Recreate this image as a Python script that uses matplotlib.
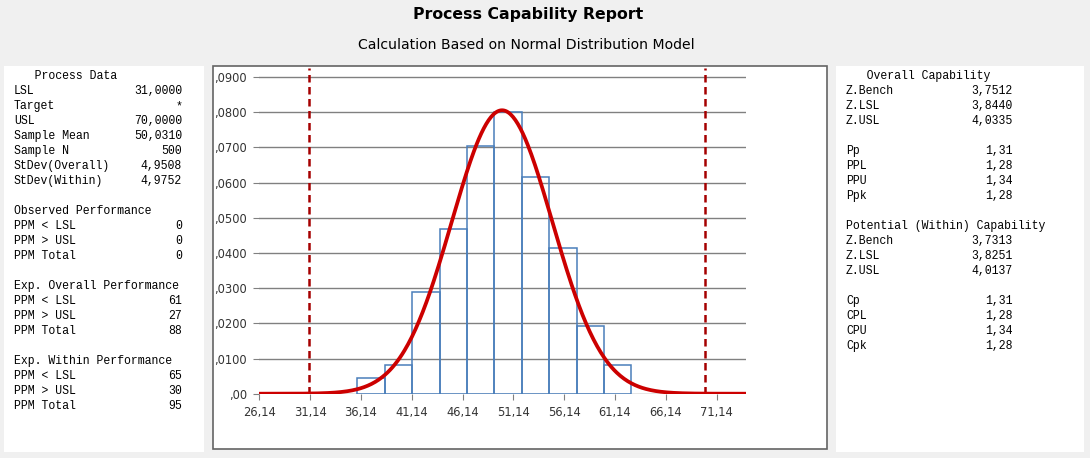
import matplotlib
matplotlib.use("Agg")
import matplotlib.pyplot as plt
from matplotlib.patches import Rectangle
import numpy as np

# ---- data ----
lsl = 31.0
usl = 70.0
mean = 50.031
sd_overall = 4.9508

# histogram (density) - 10 bins
bin_edges = [35.79, 38.49, 41.18, 43.88, 46.58, 49.27, 51.97, 54.66, 57.36, 60.05, 62.75]
densities = [0.00445, 0.00816, 0.02893, 0.04674, 0.07047, 0.08012, 0.06157, 0.04154, 0.01929, 0.00816]

x_ticks = [26.14, 31.14, 36.14, 41.14, 46.14, 51.14, 56.14, 61.14, 66.14, 71.14]
y_ticks = [0.0, 0.01, 0.02, 0.03, 0.04, 0.05, 0.06, 0.07, 0.08, 0.09]

# left side tables
left_blocks = [
    ("   Process Data", ["LSL", "Target", "USL", "Sample Mean", "Sample N", "StDev(Overall)", "StDev(Within)"],
     ["31,0000", "*", "70,0000", "50,0310", "500", "4,9508", "4,9752"]),
    ("Observed Performance", ["PPM < LSL", "PPM > USL", "PPM Total"], ["0", "0", "0"]),
    ("Exp. Overall Performance", ["PPM < LSL", "PPM > USL", "PPM Total"], ["61", "27", "88"]),
    ("Exp. Within Performance", ["PPM < LSL", "PPM > USL", "PPM Total"], ["65", "30", "95"]),
]
# right side tables
right_blocks = [
    ("   Overall Capability", ["Z.Bench", "Z.LSL", "Z.USL"], ["3,7512", "3,8440", "4,0335"]),
    (None, ["Pp", "PPL", "PPU", "Ppk"], ["1,31", "1,28", "1,34", "1,28"]),
    ("Potential (Within) Capability", ["Z.Bench", "Z.LSL", "Z.USL"], ["3,7313", "3,8251", "4,0137"]),
    (None, ["Cp", "CPL", "CPU", "Cpk"], ["1,31", "1,28", "1,34", "1,28"]),
]

W, H = 1090, 458
fig = plt.figure(figsize=(W / 100, H / 100), dpi=100, facecolor="#f0f0f0")


def px(x, y):
    return x / W, 1 - y / H


def panel(x0, y0, x1, y1, edge=None):
    fx, fy = px(x0, y1)
    r = Rectangle((fx, fy), (x1 - x0) / W, (y1 - y0) / H, transform=fig.transFigure,
                  facecolor="white", edgecolor=edge if edge else "none", lw=1.2 if edge else 0,
                  zorder=-5)
    fig.patches.append(r)


panel(4, 66, 204, 452)
panel(212.5, 66, 827, 449, edge="#646464")
panel(836, 66, 1084, 452)

# titles
fig.text(*px(528, 14), "Process Capability Report", ha="center", va="center",
         fontsize=11.3, fontweight="bold", family="DejaVu Sans")
fig.text(*px(526, 45), "Calculation Based on Normal Distribution Model", ha="center", va="center",
         fontsize=10.1, family="DejaVu Sans")

mono = dict(family="Liberation Mono", fontsize=8.3, va="center", color="black")


def draw_blocks(blocks, x_lab, x_val, y_start):
    y = y_start
    for head, labels, values in blocks:
        if head:
            fig.text(*px(x_lab, y), head, ha="left", **mono)
            y += 15
        for lab, val in zip(labels, values):
            fig.text(*px(x_lab, y), lab, ha="left", **mono)
            fig.text(*px(x_val, y), val, ha="right", **mono)
            y += 15
        y += 15


draw_blocks(left_blocks, 14, 182, 76)
draw_blocks(right_blocks, 846, 1013, 76)

# ---- chart ----
ax_l, ax_r, ax_t, ax_b = 259.3, 746, 68, 393.7
ax = fig.add_axes([ax_l / W, 1 - ax_b / H, (ax_r - ax_l) / W, (ax_b - ax_t) / H])
ax.set_facecolor("none")
xmin, xmax = 26.14, 74.04
ax.set_xlim(xmin, xmax)
ax.set_ylim(0, 0.0926)

for v in y_ticks:
    ax.axhline(v, color="#808080", lw=1.0, zorder=1)

widths = np.diff(bin_edges)
ax.bar(bin_edges[:-1], densities, width=widths, align="edge", fill=False,
       edgecolor="#4a7ebb", lw=1.1, zorder=2)

xs = np.linspace(xmin, xmax, 400)
pdf = np.exp(-0.5 * ((xs - mean) / sd_overall) ** 2) / (sd_overall * np.sqrt(2 * np.pi))
ax.plot(xs, pdf, color="#cc0000", lw=2.7, zorder=4, solid_capstyle="round")

for v in (lsl, usl):
    ax.axvline(v, color="#a50000", lw=1.8, ls=(0, (3, 1.8)), zorder=3)

for s in ax.spines.values():
    s.set_visible(False)

ax.set_xticks(x_ticks)
ax.set_xticklabels([f"{v:.2f}".replace(".", ",") for v in x_ticks])
ax.set_yticks(y_ticks)
ax.set_yticklabels([",00" if v == 0 else f"{v:.4f}".lstrip("0").replace(".", ",") for v in y_ticks])
ax.tick_params(axis="x", length=4, color="#808080", labelsize=8.3, labelcolor="#333333", pad=5)
ax.tick_params(axis="y", length=4, color="#808080", labelsize=8.3, labelcolor="#333333", pad=5)

fig.savefig("out.png", dpi=100, facecolor=fig.get_facecolor())
